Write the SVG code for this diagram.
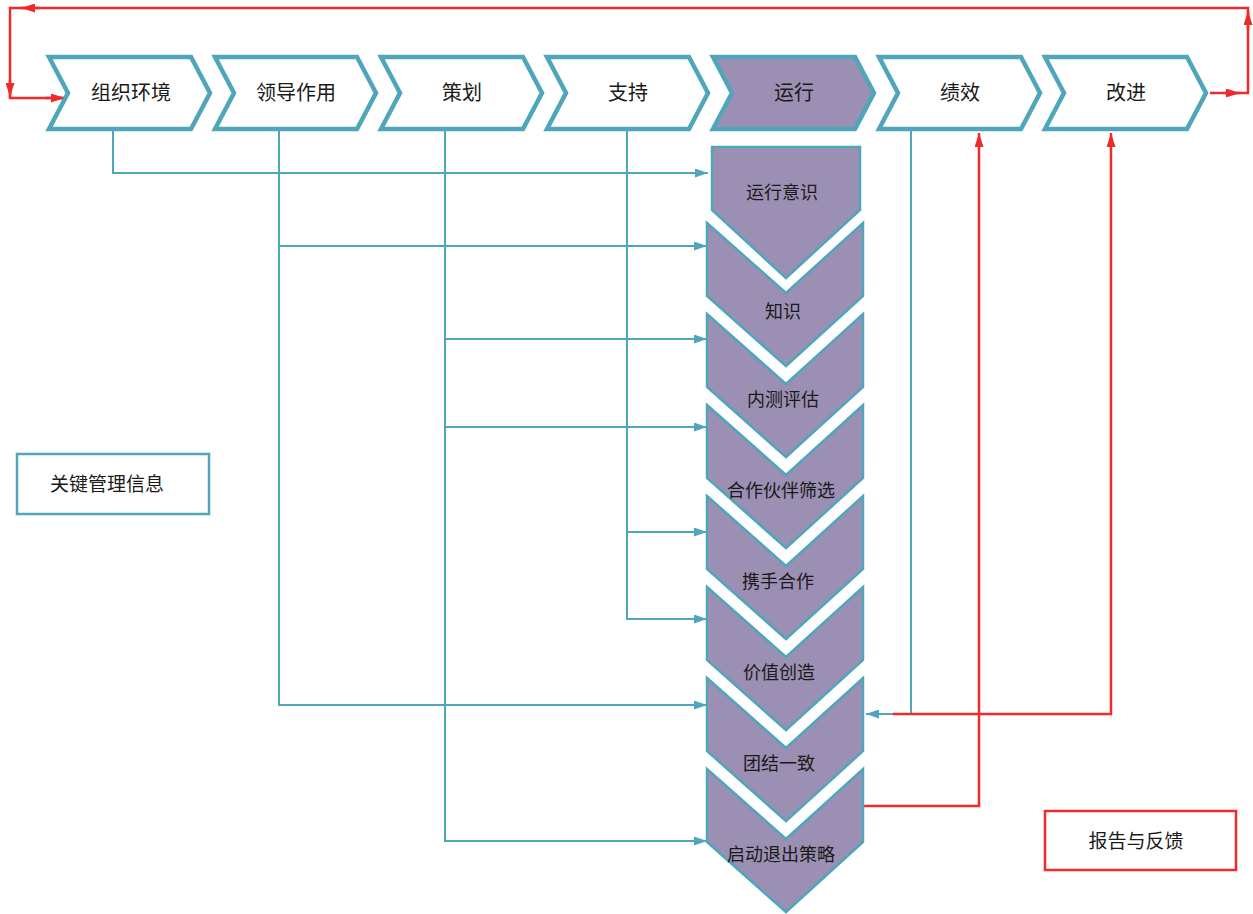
<svg xmlns="http://www.w3.org/2000/svg" width="1253" height="914" viewBox="0 0 1253 914">
<style>
.top{fill:#ffffff;stroke:#4fa6bb;stroke-width:4.5;stroke-linejoin:miter}
.topP{fill:#9b90b4;stroke:#4fa6bb;stroke-width:4.5}
.stk{fill:#9b90b4;stroke:#4fa6bb;stroke-width:2.5}
.box{fill:#ffffff;stroke:#4fa6bb;stroke-width:2.5}
.rbox{fill:#ffffff;stroke:#ee2b2b;stroke-width:2.5}
.t{font-family:"Noto Sans CJK SC","Noto Sans",sans-serif;fill:#1a1a1a;text-anchor:middle}
.t20{font-size:20px}
.t18{font-size:18px}
.t19{font-size:19px}
.bl{fill:none;stroke:#4fa6bb;stroke-width:2}
.rd{fill:none;stroke:#ee2b2b;stroke-width:2.5}
</style>
<defs>
<marker id="ab" markerUnits="userSpaceOnUse" markerWidth="13" markerHeight="9" refX="13" refY="4.5" orient="auto">
<path d="M0,0 L13,4.5 L0,9 Z" fill="#4fa6bb"/>
</marker>
<marker id="ar" markerUnits="userSpaceOnUse" markerWidth="14" markerHeight="9" refX="14" refY="4.5" orient="auto">
<path d="M0,0 L14,4.5 L0,9 Z" fill="#ee2b2b"/>
</marker>
<path id="chev" d="M49 57 L191 57 L210 93 L191 129 L49 129 L68 93 Z"/>
</defs>

<g id="connectors">
<path class="bl" d="M113 131 V173 H708" marker-end="url(#ab)"/>
<path class="bl" d="M279 131 V705 H707" marker-end="url(#ab)"/>
<path class="bl" d="M279 246 H707" marker-end="url(#ab)"/>
<path class="bl" d="M445 131 V841 H707" marker-end="url(#ab)"/>
<path class="bl" d="M445 339 H707" marker-end="url(#ab)"/>
<path class="bl" d="M445 427 H707" marker-end="url(#ab)"/>
<path class="bl" d="M627 131 V619 H707" marker-end="url(#ab)"/>
<path class="bl" d="M627 532 H707" marker-end="url(#ab)"/>
<path class="bl" d="M911 131 V714 H866" marker-end="url(#ab)"/>
<path class="rd" d="M893 714 H1111 V133" marker-end="url(#ar)"/>
<path class="rd" d="M863 806 H979 V133" marker-end="url(#ar)"/>
<path class="rd" d="M1210 93 H1248 V8 H10 V98 H66"/>
<line class="rd" x1="1225" y1="93" x2="1240" y2="93" marker-end="url(#ar)"/>
<line class="rd" x1="1248" y1="30" x2="1248" y2="11" marker-end="url(#ar)"/>
<line class="rd" x1="40" y1="8" x2="21" y2="8" marker-end="url(#ar)"/>
<line class="rd" x1="10" y1="80" x2="10" y2="97" marker-end="url(#ar)"/>
<line class="rd" x1="45" y1="98" x2="65" y2="98" marker-end="url(#ar)"/>
</g>

<g id="n1"><use href="#chev" class="top"/><text class="t t20" x="131" y="100">组织环境</text></g>
<g id="n2"><use href="#chev" class="top" x="166"/><text class="t t20" x="296" y="100">领导作用</text></g>
<g id="n3"><use href="#chev" class="top" x="332"/><text class="t t20" x="462" y="100">策划</text></g>
<g id="n4"><use href="#chev" class="top" x="498"/><text class="t t20" x="628" y="100">支持</text></g>
<g id="n5"><use href="#chev" class="topP" x="664"/><text class="t t20" x="794" y="100">运行</text></g>
<g id="n6"><use href="#chev" class="top" x="830"/><text class="t t20" x="960" y="100">绩效</text></g>
<g id="n7"><use href="#chev" class="top" x="996"/><text class="t t20" x="1126" y="100">改进</text></g>

<g id="s1"><path class="stk" d="M712 147 L860 147 L860 210 L786 278 L712 210 Z"/><text class="t t18" x="782" y="199">运行意识</text></g>
<g id="s2"><path class="stk" d="M707 223 L786 293 L863 223 L863 296 L786 366 L707 296 Z"/><text class="t t18" x="783" y="318">知识</text></g>
<g id="s3"><path class="stk" d="M707 314 L786 384 L863 314 L863 387 L786 457 L707 387 Z"/><text class="t t18" x="783" y="406">内测评估</text></g>
<g id="s4"><path class="stk" d="M707 405 L786 475 L863 405 L863 478 L786 548 L707 478 Z"/><text class="t t18" x="781" y="497">合作伙伴筛选</text></g>
<g id="s5"><path class="stk" d="M707 496 L786 566 L863 496 L863 569 L786 639 L707 569 Z"/><text class="t t18" x="778" y="588">携手合作</text></g>
<g id="s6"><path class="stk" d="M707 587 L786 657 L863 587 L863 660 L786 730 L707 660 Z"/><text class="t t18" x="779" y="679">价值创造</text></g>
<g id="s7"><path class="stk" d="M707 678 L786 748 L863 678 L863 751 L786 821 L707 751 Z"/><text class="t t18" x="779" y="770">团结一致</text></g>
<g id="s8"><path class="stk" d="M707 769 L786 839 L863 769 L863 842 L786 912 L707 842 Z"/><text class="t t18" x="781" y="861">启动退出策略</text></g>

<g id="key"><rect class="box" x="17" y="454" width="192" height="60"/><text class="t t19" x="107" y="491">关键管理信息</text></g>
<g id="report"><rect class="rbox" x="1045" y="811" width="191" height="59"/><text class="t t19" x="1136" y="848">报告与反馈</text></g>
</svg>
